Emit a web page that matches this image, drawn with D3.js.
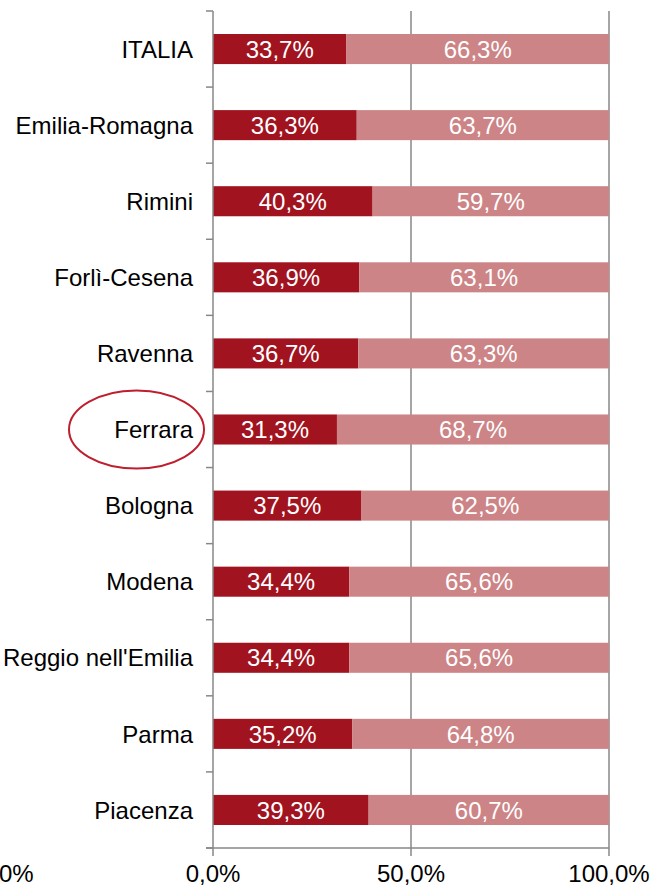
<!DOCTYPE html>
<html>
<head>
<meta charset="utf-8">
<script src="https://cdn.jsdelivr.net/npm/d3@7"></script>
<style>
html,body{margin:0;padding:0;background:#fff;}
svg{display:block;font-family:"Liberation Sans",Arial,sans-serif;}
</style>
</head>
<body>
<svg id="chart" width="651" height="888"></svg>
<script>
const categories = ["ITALIA","Emilia-Romagna","Rimini","Forlì-Cesena","Ravenna","Ferrara","Bologna","Modena","Reggio nell'Emilia","Parma","Piacenza"];
const seriesA = [33.7,36.3,40.3,36.9,36.7,31.3,37.5,34.4,34.4,35.2,39.3];
const seriesB = [66.3,63.7,59.7,63.1,63.3,68.7,62.5,65.6,65.6,64.8,60.7];
const xTicks = [0,50,100];
const xTickLabels = ["0,0%","50,0%","100,0%"];
const highlighted = "Ferrara";

(function(){
const svg = d3.select("#chart");
const pL = 213, pR = 609, pT = 11, pB = 848;
const fs = 24;
const x = d3.scaleLinear().domain([0,100]).range([pL,pR]);
const y = d3.scaleBand().domain(categories).range([pT,pB]).paddingInner(0.605).paddingOuter(0.3025);
const axisColor = "#878787";
const fmt = v => v.toFixed(1).replace(".", ",") + "%";

// gridlines
svg.append("g").selectAll("line").data(xTicks.filter(d => d > 0)).join("line")
  .attr("x1", d => x(d)).attr("x2", d => x(d))
  .attr("y1", pT).attr("y2", pB)
  .attr("stroke", axisColor).attr("stroke-width", 1.5);

// bars
const rows = categories.map((c,i) => ({c, a: seriesA[i], b: seriesB[i]}));
const g = svg.append("g");
g.selectAll("rect.a").data(rows).join("rect").attr("class","a")
  .attr("x", x(0)).attr("y", d => y(d.c))
  .attr("width", d => x(d.a) - x(0)).attr("height", y.bandwidth())
  .attr("fill", "#A0131F");
g.selectAll("rect.b").data(rows).join("rect").attr("class","b")
  .attr("x", d => x(d.a)).attr("y", d => y(d.c))
  .attr("width", d => x(d.a + d.b) - x(d.a)).attr("height", y.bandwidth())
  .attr("fill", "#CC8486");

// bar labels
g.selectAll("text.la").data(rows).join("text").attr("class","la")
  .attr("x", d => (x(0) + x(d.a))/2).attr("y", d => y(d.c) + y.bandwidth()/2)
  .attr("dy", "0.36em").attr("text-anchor","middle")
  .attr("fill","#fff").attr("font-size", fs).text(d => fmt(d.a));
g.selectAll("text.lb").data(rows).join("text").attr("class","lb")
  .attr("x", d => (x(d.a) + x(d.a + d.b))/2).attr("y", d => y(d.c) + y.bandwidth()/2)
  .attr("dy", "0.36em").attr("text-anchor","middle")
  .attr("fill","#fff").attr("font-size", fs).text(d => fmt(d.b));

// y axis
const yAxis = svg.append("g");
yAxis.append("line").attr("x1", pL).attr("x2", pL).attr("y1", pT).attr("y2", pB)
  .attr("stroke", axisColor).attr("stroke-width", 1.5);
const boundaries = categories.map(c => y(c) - y.step()*y.paddingInner()/2).concat([pB]);
yAxis.selectAll("line.t").data(boundaries).join("line").attr("class","t")
  .attr("x1", pL - 7).attr("x2", pL).attr("y1", d => d).attr("y2", d => d)
  .attr("stroke", axisColor).attr("stroke-width", 1.5);
yAxis.selectAll("text").data(categories).join("text")
  .attr("x", pL - 20).attr("y", d => y(d) + y.bandwidth()/2).attr("dy","0.36em")
  .attr("text-anchor","end").attr("font-size", fs).attr("fill","#000").text(d => d);

// x axis
const xAxis = svg.append("g");
xAxis.append("line").attr("x1", pL - 7).attr("x2", pR).attr("y1", pB).attr("y2", pB)
  .attr("stroke", axisColor).attr("stroke-width", 1.5);
xAxis.selectAll("line.t").data(xTicks).join("line").attr("class","t")
  .attr("x1", d => x(d)).attr("x2", d => x(d)).attr("y1", pB).attr("y2", pB + 8)
  .attr("stroke", axisColor).attr("stroke-width", 1.5);
xAxis.selectAll("text").data(xTicks).join("text")
  .attr("x", d => x(d)).attr("y", 882).attr("text-anchor","middle")
  .attr("font-size", fs).attr("fill","#000").text((d,i) => xTickLabels[i]);
// clipped leftover label at far left
svg.append("text").attr("x", -1).attr("y", 882).attr("font-size", fs).attr("fill","#000").text("0%");

// highlight ellipse
svg.append("ellipse")
  .attr("cx", 136.5).attr("cy", y(highlighted) + y.bandwidth()/2)
  .attr("rx", 67.5).attr("ry", 39)
  .attr("fill","none").attr("stroke","#BE1E2D").attr("stroke-width", 2);
})();
</script>
</body>
</html>
